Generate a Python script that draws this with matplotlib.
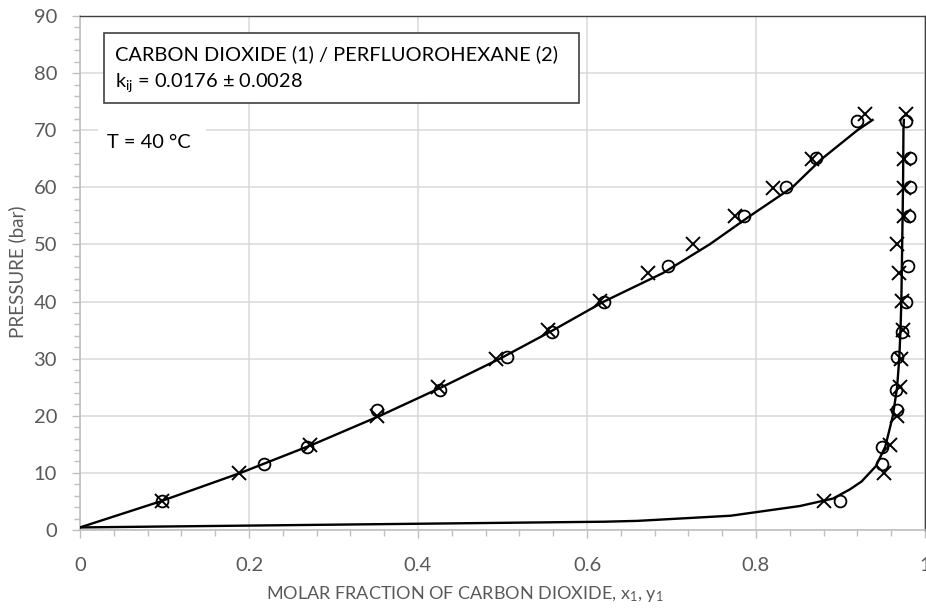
import numpy as np
import matplotlib
matplotlib.use('Agg')
import matplotlib.pyplot as plt
from matplotlib.patches import Rectangle
from matplotlib.ticker import MultipleLocator, FuncFormatter

plt.rcParams['font.family'] = ['Lato', 'DejaVu Sans']
plt.rcParams['mathtext.default'] = 'regular'

# experimental points, set 1 (circles): pressure, liquid x1, vapour y1
circ_P = [5.1, 11.6, 14.6, 21.0, 24.5, 30.3, 34.6, 39.9, 46.2, 54.9, 60.1, 65.1, 71.7]
circ_x = [0.097, 0.218, 0.269, 0.351, 0.426, 0.505, 0.558, 0.620, 0.696, 0.786, 0.836, 0.871, 0.919]
circ_y = [0.899, 0.949, 0.9495, 0.9665, 0.9657, 0.9665, 0.973, 0.978, 0.980, 0.981, 0.982, 0.982, 0.9775]

# experimental points, set 2 (crosses)
cross_P = [5.0, 10.0, 14.9, 19.9, 25.1, 30.0, 35.0, 40.1, 45.0, 50.1, 55.0, 59.9, 65.0, 72.8]
cross_x = [0.097, 0.188, 0.272, 0.351, 0.424, 0.492, 0.554, 0.615, 0.672, 0.725, 0.775, 0.820, 0.866, 0.929]
cross_y = [0.880, 0.951, 0.959, 0.9665, 0.970, 0.972, 0.974, 0.973, 0.969, 0.9665, 0.9755, 0.9755, 0.9755, 0.9775]

# model: bubble line
bub_P = [0.45, 5, 10, 15, 20, 25, 30, 35, 40, 45, 50, 55, 60, 65, 70, 71.8]
bub_x = [0.0, 0.095, 0.19, 0.276, 0.355, 0.428, 0.497, 0.56, 0.62, 0.69, 0.745, 0.793, 0.843, 0.878, 0.92, 0.938]

# model: dew line
dew_P = [0.45, 1.45, 1.6, 2.5, 4.2, 5.5, 7.1, 8.5, 11.2, 14.6, 20, 25, 30, 35, 40, 50, 60, 70, 71.8]
dew_y = [0.0, 0.62, 0.66, 0.77, 0.852, 0.891, 0.911, 0.925, 0.942, 0.953, 0.962, 0.967, 0.9695, 0.971,
         0.972, 0.973, 0.974, 0.9745, 0.975]

W, H = 926, 609
fig = plt.figure(figsize=(W / 100, H / 100), dpi=100)
ax = fig.add_axes([80 / W, 1 - 530 / H, 845 / W, 514 / H])

lc = 'black'
ax.plot(bub_x, bub_P, color=lc, lw=1.7, zorder=3)
ax.plot(dew_y, dew_P, color=lc, lw=1.7, zorder=3)

ms_o, ms_x = 8.5, 9.5
for xs in (circ_x, circ_y):
	ax.plot(xs, circ_P, 'o', mfc='none', mec=lc, mew=1.3, ms=ms_o, zorder=4, clip_on=False)
for xs in (cross_x, cross_y):
	ax.plot(xs, cross_P, 'x', mec=lc, mew=1.4, ms=ms_x, zorder=4, clip_on=False)

ax.set_xlim(0, 1)
ax.set_ylim(0, 90)
ax.xaxis.set_major_locator(MultipleLocator(0.2))
ax.xaxis.set_minor_locator(MultipleLocator(0.04))
ax.yaxis.set_major_locator(MultipleLocator(10))
ax.yaxis.set_minor_locator(MultipleLocator(2))
ax.xaxis.set_major_formatter(FuncFormatter(lambda v, p: f'{v:g}'))
ax.grid(True, which='major', color='#d9d9d9', lw=1.1)
ax.set_axisbelow(True)

for s in ('left', 'bottom'):
	ax.spines[s].set_color('#bfbfbf')
	ax.spines[s].set_linewidth(1.2)
for s in ('top', 'right'):
	ax.spines[s].set_color('#404040')
	ax.spines[s].set_linewidth(1.0)

ax.tick_params(which='both', direction='out', color='#bfbfbf', width=1.0,
               labelsize=14.5, labelcolor='#595959', top=False, right=False)
ax.tick_params(which='major', length=5.5)
ax.tick_params(which='minor', length=4)
ax.tick_params(axis='x', which='major', pad=14)
ax.tick_params(axis='y', which='major', pad=11)

fig.text(17 / W, 1 - 272 / H, 'PRESSURE (bar)', rotation=90, ha='center', va='center',
         fontsize=13.5, color='#595959')
fig.text(465 / W, 1 - 594 / H, 'MOLAR FRACTION OF CARBON DIOXIDE, $x_1$, $y_1$',
         ha='center', va='center', fontsize=13, color='#595959')

# info box
fig.patches.append(Rectangle((104 / W, 1 - 103 / H), 475 / W, 70 / H, transform=fig.transFigure,
                             facecolor='white', edgecolor='#404040', lw=1.2, zorder=5))
fig.text(115 / W, 1 - 54 / H, 'CARBON DIOXIDE (1) / PERFLUOROHEXANE (2)', ha='left', va='center',
         fontsize=14.4, color='black', zorder=6)
fig.text(115 / W, 1 - 83 / H, r'k$_{ij}$ = 0.0176 ± 0.0028', ha='left', va='center',
         fontsize=14.4, color='black', zorder=6)

fig.patches.append(Rectangle((98 / W, 1 - 163 / H), 108 / W, 40 / H, transform=fig.transFigure,
                             facecolor='white', edgecolor='none', zorder=5))
fig.text(107 / W, 1 - 143 / H, 'T = 40 °C', ha='left', va='center', fontsize=14.4, color='black', zorder=6)

fig.savefig('out.png', dpi=100)
